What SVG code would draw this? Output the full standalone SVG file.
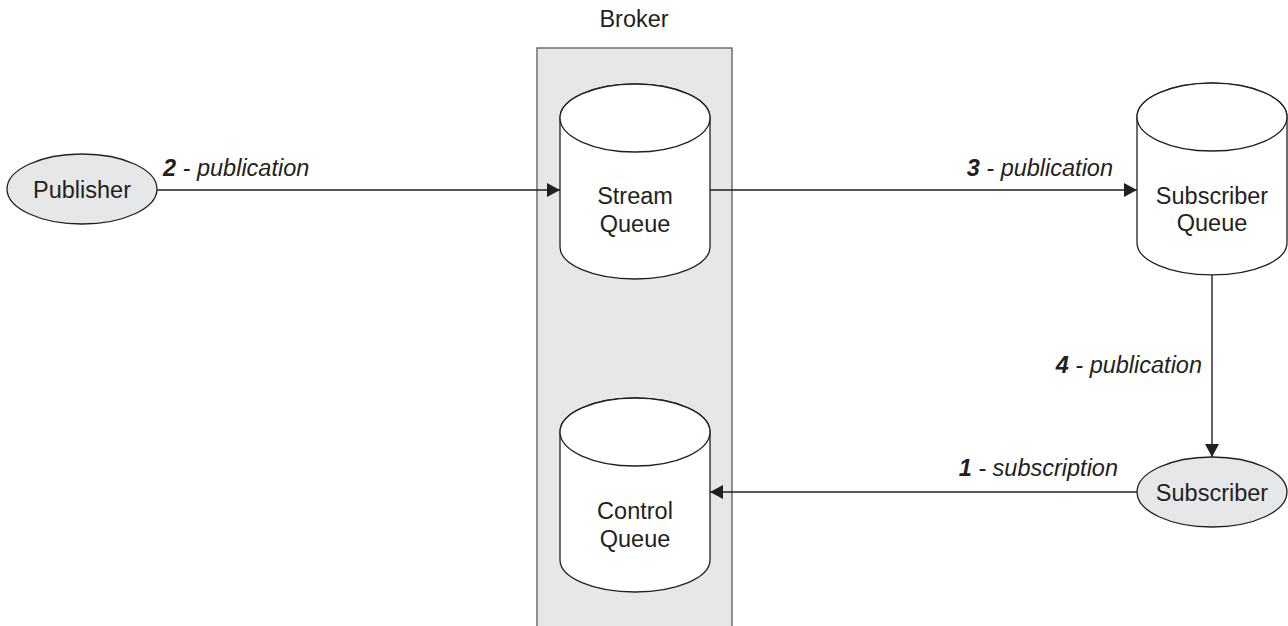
<svg xmlns="http://www.w3.org/2000/svg" width="1288" height="626" viewBox="0 0 1288 626">
<style>
text{font-family:"Liberation Sans",Arial,sans-serif;font-size:23.5px;fill:#231f20}
.c{text-anchor:middle}
.lbl{font-style:italic}
.num{font-weight:bold}
.cyl{fill:#fff;stroke:#231f20;stroke-width:1.3}
.ell{fill:#e6e7e8;stroke:#231f20;stroke-width:1.3}
.edge{stroke:#231f20;stroke-width:1.4;fill:none}
</style>
<defs>
<marker id="ah" markerWidth="13" markerHeight="14" refX="13" refY="7" orient="auto" markerUnits="userSpaceOnUse">
<path d="M0,0 L13,7 L0,14 Z" fill="#231f20"/>
</marker>
</defs>
<rect width="1288" height="626" fill="#fff"/>
<g id="broker">
<rect x="537" y="48" width="195" height="590" fill="#e6e7e9" stroke="#58595b" stroke-width="1.3"/>
<text class="c" x="634" y="27">Broker</text>
</g>
<g id="stream-queue">
<path class="cyl" d="M560,118 L560,247 A75,32 0 0 0 710,247 L710,118 A75,34 0 0 0 560,118 Z"/>
<ellipse class="cyl" cx="635" cy="118" rx="75" ry="34"/>
<text class="c" x="635" y="204">Stream</text>
<text class="c" x="635" y="232">Queue</text>
</g>
<g id="control-queue">
<path class="cyl" d="M560,432 L560,560 A75,32 0 0 0 710,560 L710,432 A75,34 0 0 0 560,432 Z"/>
<ellipse class="cyl" cx="635" cy="432" rx="75" ry="34"/>
<text class="c" x="635" y="519">Control</text>
<text class="c" x="635" y="547">Queue</text>
</g>
<g id="subscriber-queue">
<path class="cyl" d="M1137,117 L1137,243 A75,32 0 0 0 1287,243 L1287,117 A75,34 0 0 0 1137,117 Z"/>
<ellipse class="cyl" cx="1212" cy="117" rx="75" ry="34"/>
<text class="c" x="1212" y="204">Subscriber</text>
<text class="c" x="1212" y="231">Queue</text>
</g>
<g id="publisher">
<ellipse class="ell" cx="82" cy="189" rx="75" ry="35"/>
<text class="c" x="82" y="198">Publisher</text>
</g>
<g id="subscriber">
<ellipse class="ell" cx="1212" cy="492" rx="75" ry="35"/>
<text class="c" x="1212" y="501">Subscriber</text>
</g>
<g id="connectors">
<line class="edge" x1="157" y1="190" x2="560" y2="190" marker-end="url(#ah)"/>
<line class="edge" x1="710" y1="190" x2="1137" y2="190" marker-end="url(#ah)"/>
<line class="edge" x1="1212" y1="275" x2="1212" y2="457" marker-end="url(#ah)"/>
<line class="edge" x1="1137" y1="492" x2="710" y2="492" marker-end="url(#ah)"/>
<text class="lbl" x="163" y="176"><tspan class="num">2</tspan> - publication</text>
<text class="lbl" x="1113" y="176" text-anchor="end"><tspan class="num">3</tspan> - publication</text>
<text class="lbl" x="1202" y="373" text-anchor="end"><tspan class="num">4</tspan> - publication</text>
<text class="lbl" x="1118" y="476" text-anchor="end"><tspan class="num">1</tspan> - subscription</text>
</g>
</svg>
